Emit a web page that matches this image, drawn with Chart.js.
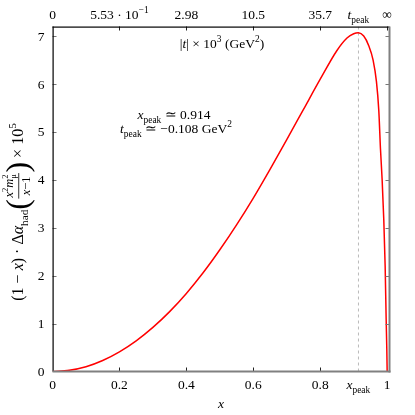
<!DOCTYPE html>
<html>
<head>
<meta charset="utf-8">
<script src="https://cdn.jsdelivr.net/npm/chart.js@4"></script>
<style>
html, body { margin: 0; padding: 0; background: #fff; }
#wrap { width: 415px; height: 415px; }
</style>
</head>
<body>
<div id="wrap"><canvas id="chart" width="415" height="415"></canvas></div>
<script>
// ── Data ──────────────────────────────────────────────────────────
const xValues = [0, 0.05, 0.1, 0.15, 0.2, 0.25, 0.3, 0.35, 0.4, 0.45, 0.5, 0.55, 0.6, 0.65, 0.7, 0.75, 0.8,
    0.85, 0.88, 0.9, 0.914, 0.93, 0.945, 0.958, 0.968, 0.975, 0.98, 0.985, 0.99, 0.994, 0.997, 0.999, 1];
const yValues = [0, 0.026, 0.10, 0.23, 0.41, 0.64, 0.92, 1.25, 1.63, 2.06, 2.54, 3.06, 3.62, 4.22, 4.84, 5.47, 6.1,
    6.7, 6.96, 7.05, 7.07, 7.0, 6.8, 6.5, 6.05, 5.45, 4.65, 4.0, 3.15, 2.2, 1.1, 0.45, 0];
const xPeak = 0.914;
const xTicks = [0, 0.2, 0.4, 0.6, 0.8, 0.914, 1];
const xTickLabels = ['0', '0.2', '0.4', '0.6', '0.8', '*x*_{peak}', '1'];
const topTickLabels = ['0', '5.53 · 10^{−1}', '2.98', '10.5', '35.7', '*t*_{peak}', '∞'];
const yTicks = [0, 1, 2, 3, 4, 5, 6, 7];
const yTickLabels = ['0', '1', '2', '3', '4', '5', '6', '7'];
const xMax = 1.007;
const yMax = 7.2;

// ── tiny math-ish text renderer ───────────────────────────────────
const FONT = 'Liberation Serif';
const S = 13.5;
const fnt = (size, it) => (it ? 'italic ' : '') + size + 'px "' + FONT + '"';

function parse(s) {
    const parts = [];
    let buf = '';
    const flush = () => { if (buf) { parts.push({ k: 'r', t: buf }); buf = ''; } };
    for (let i = 0; i < s.length; i++) {
        const c = s[i];
        if ((c === '_' || c === '^') && s[i + 1] === '{') {
            flush();
            const end = s.indexOf('}', i);
            parts.push({ k: c === '_' ? 'sub' : 'sup', t: s.slice(i + 2, end) });
            i = end;
        } else if (c === '*') {
            flush();
            const end = s.indexOf('*', i + 1);
            parts.push({ k: 'it', t: s.slice(i + 1, end) });
            i = end;
        } else buf += c;
    }
    flush();
    return parts;
}

function partWidth(ctx, p, size) {
    const sm = size * 0.7;
    switch (p.k) {
        case 'sub': case 'sup': ctx.font = fnt(sm); return ctx.measureText(p.t).width;
        case 'stack': ctx.font = fnt(sm); return Math.max(ctx.measureText(p.sup).width, ctx.measureText(p.sub).width);
        case 'big': ctx.font = fnt(size * 2); return ctx.measureText(p.t).width;
        case 'frac': return Math.max(seqWidth(ctx, p.num, size * 0.78), seqWidth(ctx, p.den, size * 0.78)) + 3;
        default: ctx.font = fnt(size, p.k === 'it'); return ctx.measureText(p.t).width;
    }
}
const seqWidth = (ctx, parts, size) => parts.reduce((w, p) => w + partWidth(ctx, p, size), 0);

function drawSeq(ctx, parts, x, y, size) {
    const sm = size * 0.7;
    ctx.textBaseline = 'alphabetic';
    ctx.textAlign = 'left';
    for (const p of parts) {
        const w = partWidth(ctx, p, size);
        if (p.k === 'sub') { ctx.font = fnt(sm); ctx.fillText(p.t, x, y + 0.3 * size); }
        else if (p.k === 'sup') { ctx.font = fnt(sm); ctx.fillText(p.t, x, y - 0.42 * size); }
        else if (p.k === 'stack') {
            ctx.font = fnt(sm);
            ctx.fillText(p.sup, x, y - 0.42 * size);
            ctx.fillText(p.sub, x, y + 0.25 * size);
        } else if (p.k === 'big') { ctx.font = fnt(size * 2); ctx.fillText(p.t, x, y + 0.33 * size); }
        else if (p.k === 'frac') {
            const fs = size * 0.78;
            const axis = y - 0.27 * size;
            const wn = seqWidth(ctx, p.num, fs), wd = seqWidth(ctx, p.den, fs);
            drawSeq(ctx, p.num, x + (w - wn) / 2, axis - 0.36 * size, fs);
            drawSeq(ctx, p.den, x + (w - wd) / 2, axis + 0.7 * size, fs);
            ctx.fillRect(x + 0.5, axis - 0.3, w - 1, 0.8);
        } else { ctx.font = fnt(size, p.k === 'it'); ctx.fillText(p.t, x, y); }
        x += w;
    }
}

function drawText(ctx, parts, x, y, align, size = S) {
    const w = seqWidth(ctx, parts, size);
    const x0 = align === 'center' ? x - w / 2 : align === 'right' ? x - w : x;
    drawSeq(ctx, parts, x0, y, size);
}

const yTitle = [
    { k: 'r', t: '(1 − ' }, { k: 'it', t: 'x' }, { k: 'r', t: ') · Δ' }, { k: 'it', t: 'α' }, { k: 'sub', t: 'had' },
    { k: 'big', t: '(' },
    { k: 'frac',
      num: [{ k: 'it', t: 'x' }, { k: 'sup', t: '2' }, { k: 'it', t: 'm' }, { k: 'stack', sup: '2', sub: 'μ' }],
      den: [{ k: 'it', t: 'x' }, { k: 'r', t: '−1' }] },
    { k: 'big', t: ')' }, { k: 'r', t: ' × 10' }, { k: 'sup', t: '5' }
];

// ── frame, inward ticks, labels ───────────────────────────────────
const frame = {
    id: 'frame',
    afterDraw(chart) {
        const ctx = chart.ctx;
        const a = chart.chartArea;
        const sx = chart.scales.x, sy = chart.scales.y;
        ctx.save();

        // ticks
        ctx.lineWidth = 1;
        ctx.strokeStyle = '#777';
        yTicks.forEach(v => {
            const py = Math.round(sy.getPixelForValue(v)) + 0.5;
            if (v === 0) return;
            ctx.beginPath();
            ctx.moveTo(a.left, py); ctx.lineTo(a.left + 4, py);
            ctx.moveTo(a.right, py); ctx.lineTo(a.right - 4, py);
            ctx.stroke();
        });
        ctx.strokeStyle = '#222';
        xTicks.forEach(v => {
            if (v === 0 || v === xPeak) return;
            const px = Math.round(sx.getPixelForValue(v)) + 0.5;
            ctx.beginPath();
            if (v !== 1) { ctx.moveTo(px, a.bottom); ctx.lineTo(px, a.bottom - 4); }
            ctx.moveTo(px, a.top); ctx.lineTo(px, a.top + 4);
            ctx.stroke();
        });

        // borders
        ctx.fillStyle = '#000';
        ctx.fillRect(a.left, a.top, 1.2, a.bottom - a.top);
        ctx.fillRect(a.left, a.top, a.right - a.left, 1.2);
        ctx.fillStyle = '#808080';
        ctx.fillRect(a.left, a.bottom - 1, a.right - a.left + 1, 2);
        ctx.fillRect(a.right - 1, a.top, 2, a.bottom - a.top + 1);

        // tick labels
        ctx.fillStyle = '#000';
        xTicks.forEach((v, i) => {
            const px = sx.getPixelForValue(v);
            drawText(ctx, parse(xTickLabels[i]), px, a.bottom + 17, 'center');
            drawText(ctx, parse(topTickLabels[i]), px, a.top - 8, 'center');
        });
        yTicks.forEach((v, i) => {
            drawText(ctx, parse(yTickLabels[i]), a.left - 8, sy.getPixelForValue(v) + 4.5, 'right');
        });

        // axis titles
        drawText(ctx, parse('*x*'), (a.left + a.right) / 2, 408, 'center');
        ctx.translate(23, 212);
        ctx.rotate(-Math.PI / 2);
        drawText(ctx, yTitle, 0, 0, 'center', 16);
        ctx.restore();

        // annotations
        ctx.save();
        ctx.fillStyle = '#000';
        drawText(ctx, parse('|*t*| × 10^{3} (GeV^{2})'), 222, 48, 'center');
        drawText(ctx, parse('*x*_{peak} ≃ 0.914'), 174, 119, 'center');
        drawText(ctx, parse('*t*_{peak} ≃ −0.108 GeV^{2}'), 176, 133, 'center');
        ctx.restore();
    }
};

new Chart(document.getElementById('chart'), {
    type: 'line',
    data: {
        datasets: [{
            data: xValues.map((x, i) => ({ x, y: yValues[i] })),
            borderColor: '#ff0000',
            borderWidth: 1.5,
            pointRadius: 0,
            cubicInterpolationMode: 'monotone',
            fill: false,
        }, {
            data: [{ x: xPeak, y: 0 }, { x: xPeak, y: yMax }],
            borderColor: '#aaa',
            borderWidth: 0.8,
            borderDash: [3, 3],
            pointRadius: 0,
            fill: false,
        }]
    },
    options: {
        responsive: false,
        animation: false,
        devicePixelRatio: 1,
        layout: { padding: 0 },
        plugins: { legend: { display: false }, tooltip: { enabled: false } },
        scales: {
            x: {
                type: 'linear', position: 'bottom', min: 0, max: xMax,
                grid: { display: false }, border: { display: false }, ticks: { display: false },
                afterFit: (s) => { s.height = 43.5; }
            },
            xt: {
                type: 'linear', position: 'top', min: 0, max: xMax,
                grid: { display: false }, border: { display: false }, ticks: { display: false },
                afterFit: (s) => { s.height = 26.5; }
            },
            y: {
                position: 'left', min: 0, max: yMax,
                grid: { display: false }, border: { display: false }, ticks: { display: false },
                afterFit: (s) => { s.width = 52.5; }
            },
            yr: {
                position: 'right', min: 0, max: yMax,
                grid: { display: false }, border: { display: false }, ticks: { display: false },
                afterFit: (s) => { s.width = 25.5; }
            }
        }
    },
    plugins: [frame]
});
</script>
</body>
</html>
